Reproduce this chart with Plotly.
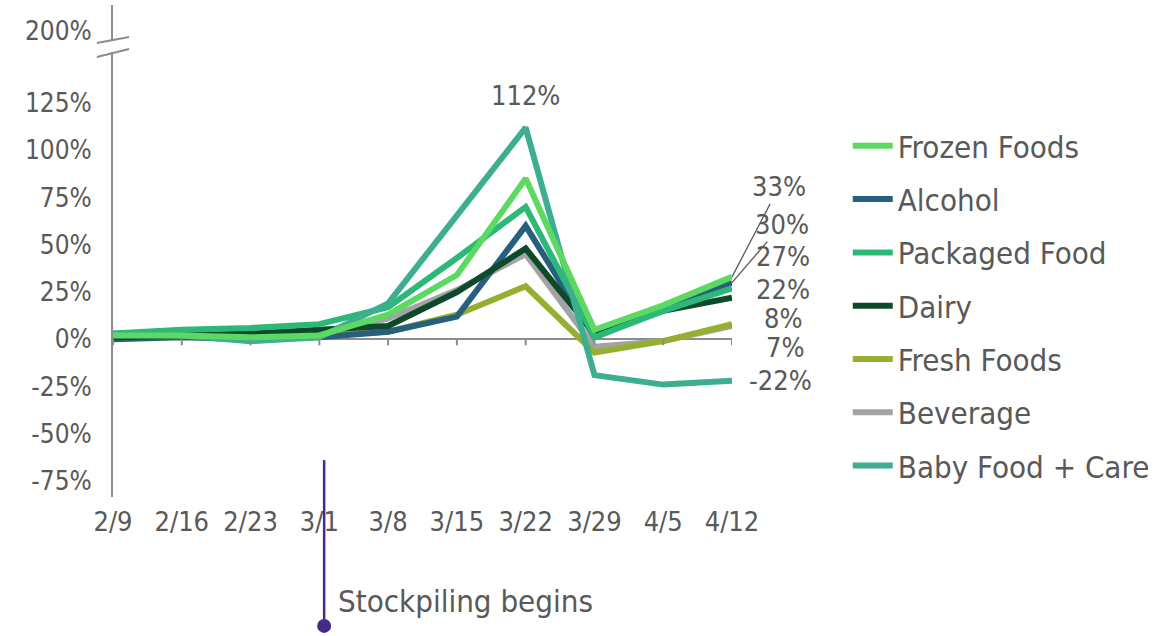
import plotly.graph_objects as go

# Weekly change in sales vs. prior year, by category
weeks = ["2/9", "2/16", "2/23", "3/1", "3/8", "3/15", "3/22", "3/29", "4/5", "4/12"]

frozen_foods = [2, 2, 1, 2, 13, 34, 85, 5, 18, 33]
alcohol = [0, 1, 0, 1, 4, 12, 60, 1, 16, 30]
packaged_food = [3, 5, 6, 8, 17, 43, 70, 1, 15, 27]
dairy = [1, 2, 3, 5, 7, 25, 48, 3, 15, 22]
fresh_foods = [2, 2, 1, 2, 4, 13, 28, -7, -1, 8]
beverage = [2, 2, 1, 2, 11, 26, 45, -4, -1, 7]
baby_food_care = [3, 2, -1, 1, 19, 66, 112, -19, -24, -22]

y_ticks = [-75, -50, -25, 0, 25, 50, 75, 100, 125]
break_tick = 200
stockpile_week = 3.07  # just after the 3/1 week

FONT = "DejaVu Sans Condensed, DejaVu Sans, sans-serif"
TEXT = "#595959"
AXIS = "#8C8C8C"

# name, values, colour, legend rank (drawing order is list order)
series = [
    ("Beverage", beverage, "#A3A3A3", 6),
    ("Fresh Foods", fresh_foods, "#95AF2E", 5),
    ("Alcohol", alcohol, "#27607E", 2),
    ("Dairy", dairy, "#0C4A2B", 4),
    ("Packaged Food", packaged_food, "#2CB977", 3),
    ("Baby Food + Care", baby_food_care, "#3DAE8F", 7),
    ("Frozen Foods", frozen_foods, "#5CD962", 1),
]

x_idx = list(range(len(weeks)))
fig = go.Figure()
for name, vals, color, rank in series:
    fig.add_trace(go.Scatter(
        x=x_idx, y=vals, name=name, mode="lines",
        line=dict(color=color, width=6),
        legendrank=rank, legendgroup=name, hoverinfo="name+y",
    ))

# empty trace so the short upper axis segment is drawn
fig.add_trace(go.Scatter(x=[None], y=[None], xaxis="x", yaxis="y2",
                         showlegend=False, hoverinfo="skip"))

shapes = []
# tick marks hanging from the zero line
for i in x_idx:
    shapes.append(dict(type="line", xref="x", yref="y", x0=i, x1=i, y0=0, y1=-3.2,
                       line=dict(color=AXIS, width=2)))
# axis break marks
for (y0, y1) in [(0.9228, 0.9350), (0.8943, 0.9106)]:
    shapes.append(dict(type="line", xref="paper", yref="paper",
                       x0=-0.026, x1=0.026, y0=y0, y1=y1,
                       line=dict(color=AXIS, width=2)))
# stockpiling marker line and dot
shapes.append(dict(type="line", xref="x", yref="paper", x0=stockpile_week, x1=stockpile_week,
                   y0=0.075, y1=-0.262, line=dict(color="#47298A", width=2.5)))
shapes.append(dict(type="circle", xref="x", yref="paper", xsizemode="pixel", ysizemode="pixel",
                   xanchor=stockpile_week, yanchor=-0.262, x0=-7, x1=7, y0=-7, y1=7,
                   fillcolor="#47298A", line=dict(color="#47298A", width=0)))

last = len(weeks) - 1
annotations = []
# end-of-series value labels: (values, xshift, yshift, leader ax, leader ay)
end_labels = [
    (frozen_foods, None, None, 47, -90),
    (alcohol, None, None, 50, -58),
    (packaged_food, 51, 32, None, None),
    (dairy, 51, 8, None, None),
    (fresh_foods, 51, 6, None, None),
    (beverage, 53, -21, None, None),
    (baby_food_care, 48, 0, None, None),
]
for vals, xs, ys, ax, ay in end_labels:
    v = vals[last]
    if ax is not None:
        annotations.append(dict(x=last, y=v, xref="x", yref="y", text=f"{v}%",
                                showarrow=True, arrowhead=0, arrowwidth=1.3,
                                arrowcolor=TEXT, ax=ax, ay=ay, standoff=0,
                                font=dict(family=FONT, size=27, color=TEXT)))
    else:
        annotations.append(dict(x=last, y=v, xref="x", yref="y", text=f"{v}%",
                                showarrow=False, xshift=xs, yshift=ys,
                                font=dict(family=FONT, size=27, color=TEXT)))

peak = max(baby_food_care)
annotations.append(dict(x=baby_food_care.index(peak), y=peak, xref="x", yref="y",
                        text=f"{peak}%", showarrow=False, yshift=32,
                        font=dict(family=FONT, size=27, color=TEXT)))
annotations.append(dict(x=stockpile_week, y=-0.2114, xref="x", yref="paper",
                        text="Stockpiling begins", showarrow=False,
                        xanchor="left", yanchor="middle", xshift=12,
                        font=dict(family=FONT, size=31, color=TEXT)))

fig.update_layout(
    width=1175, height=636,
    margin=dict(l=113, r=443, t=5, b=139),
    paper_bgcolor="white", plot_bgcolor="white",
    font=dict(family=FONT, color=TEXT),
    showlegend=True,
    legend=dict(x=1.187, y=0.768, xanchor="left", yanchor="top",
                font=dict(family=FONT, size=31, color=TEXT),
                tracegroupgap=10, itemwidth=40, bgcolor="rgba(0,0,0,0)"),
    xaxis=dict(range=[0, last], tickvals=x_idx, ticktext=weeks,
               showline=False, showgrid=False, zeroline=False,
               ticks="outside", ticklen=1, tickcolor="rgba(0,0,0,0)",
               tickfont=dict(family=FONT, size=27, color=TEXT), anchor="y"),
    yaxis=dict(domain=[0, 0.9045], range=[-83.47, 152.0], tickvals=y_ticks,
               ticktext=[f"{t}%" for t in y_ticks],
               showline=True, linecolor=AXIS, linewidth=2,
               showgrid=False, zeroline=True, zerolinecolor=AXIS, zerolinewidth=2,
               ticks="outside", ticklen=14, tickcolor="rgba(0,0,0,0)",
               tickfont=dict(family=FONT, size=26, color=TEXT)),
    yaxis2=dict(domain=[0.9289, 1], range=[191, 226], tickvals=[break_tick],
                ticktext=[f"{break_tick}%"], anchor="x",
                showline=True, linecolor=AXIS, linewidth=2,
                showgrid=False, zeroline=False,
                ticks="outside", ticklen=14, tickcolor="rgba(0,0,0,0)",
                tickfont=dict(family=FONT, size=26, color=TEXT)),
    shapes=shapes,
    annotations=annotations,
)

fig.write_html("out.html")
